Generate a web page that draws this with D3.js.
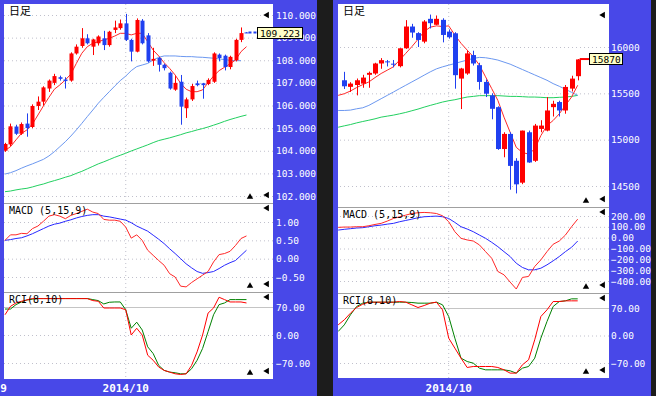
<!DOCTYPE html>
<html>
<head>
<meta charset="utf-8">
<script src="https://cdn.jsdelivr.net/npm/d3@7"></script>
<style>
  body { margin: 0; overflow: hidden; background: #4848e8; }
  svg { display: block; }
</style>
</head>
<body>
<svg id="chart" width="656" height="396"></svg>
<script>
// ---- USD/JPY daily (left) ----
const usdjpyOHLC = [
  [104.00,104.35,103.95,104.30],[104.28,105.20,104.20,105.08],[105.07,105.15,104.70,104.75],
  [104.75,105.25,104.70,105.18],[105.20,105.65,104.62,105.00],[105.05,106.05,105.00,105.98],
  [105.98,106.40,105.80,106.17],[106.17,106.85,106.00,106.80],[106.75,107.15,106.60,107.10],
  [107.00,107.40,106.90,107.30],[107.25,107.32,107.10,107.18],[107.15,107.25,106.75,107.08],
  [107.10,108.35,107.05,108.30],[108.30,108.70,108.25,108.60],[108.63,109.42,108.55,108.97],
  [108.97,109.15,108.70,108.75],[108.60,108.95,108.23,108.92],[108.75,109.10,108.65,109.05],
  [108.97,109.30,108.45,108.67],[108.67,109.30,108.60,109.26],[109.34,109.75,109.20,109.45],
  [109.42,109.80,109.35,109.63],[109.63,110.05,108.85,108.90],[108.90,108.95,107.95,108.38],
  [108.38,109.85,108.35,109.78],[109.75,109.82,108.70,108.75],[109.10,109.20,107.90,107.95],
  [107.98,108.55,107.75,108.06],[108.10,108.15,107.50,107.80],[107.80,107.85,107.55,107.65],
  [107.45,107.50,106.70,106.75],[106.70,107.30,106.65,107.00],[107.05,107.35,105.15,105.95],
  [105.88,106.35,105.45,106.27],[106.27,106.95,106.20,106.86],[106.98,107.10,106.85,106.90],
  [106.98,107.00,106.30,106.90],[106.95,107.20,106.90,107.13],[107.05,108.35,107.00,108.30],
  [108.25,108.30,107.95,108.10],[108.20,108.25,107.55,107.70],[107.70,108.20,107.60,108.15],
  [108.00,108.95,107.95,108.90],[108.90,109.45,108.80,109.20],[109.23,109.24,109.20,109.22]
];
const usdjpyMA5 = [104.01,104.18,104.48,104.77,104.92,105.18,105.58,105.98,106.36,106.72,106.91,107.13,
  107.39,107.86,108.31,108.60,108.75,108.82,108.90,108.97,109.07,109.19,109.19,109.12,109.19,109.19,
  108.82,108.45,108.19,107.89,107.64,107.35,106.98,106.72,106.61,106.61,106.69,107.01,107.30,107.54,
  107.69,107.84,108.01,108.38,108.60];
const usdjpyMA25 = [102.97,103.03,103.12,103.23,103.33,103.42,103.52,103.62,103.77,103.96,104.18,104.40,
  104.65,104.92,105.21,105.51,105.80,106.10,106.36,106.61,106.86,107.10,107.30,107.54,107.72,107.79,
  107.86,108.01,108.13,108.19,108.19,108.19,108.17,108.16,108.16,108.14,108.13,108.11,108.09,108.06,
  108.03,108.00,107.98,107.98];
const usdjpyMA75 = [102.19,102.22,102.27,102.31,102.34,102.40,102.47,102.53,102.61,102.68,102.75,102.83,
  102.90,103.00,103.09,103.20,103.31,103.42,103.51,103.61,103.71,103.80,103.89,103.99,104.08,104.17,
  104.26,104.36,104.45,104.51,104.57,104.64,104.71,104.79,104.85,104.92,104.98,105.05,105.13,105.21,
  105.30,105.38,105.45,105.52,105.58];
const usdjpyMACD = [0.50,0.65,0.65,0.69,0.68,0.82,0.89,1.02,1.16,1.20,1.16,1.09,1.18,1.23,1.29,1.35,
  1.27,1.23,1.07,1.05,1.05,1.02,0.86,0.56,0.65,0.50,0.23,0.09,-0.05,-0.18,-0.41,-0.50,-0.75,-0.77,
  -0.65,-0.55,-0.45,-0.35,-0.09,0.11,0.14,0.20,0.36,0.55,0.62];
const usdjpySignal = [0.50,0.52,0.55,0.57,0.62,0.68,0.75,0.82,0.89,0.94,0.97,1.02,1.06,1.11,1.15,1.18,
  1.20,1.20,1.16,1.14,1.11,1.08,1.05,0.98,0.89,0.82,0.75,0.64,0.53,0.41,0.27,0.14,0.00,-0.14,-0.25,
  -0.35,-0.40,-0.38,-0.35,-0.27,-0.18,-0.11,-0.05,0.09,0.23];
const usdjpyRCI8 = [50.6,71.7,80.1,84.3,87.7,91.1,91,91,91,91,91,91,91,91,91,91,86,84.3,67.5,67.5,67.5,
  67.5,63.2,0,16.9,0,-50.6,-63.2,-80.1,-88.5,-92.7,-97.0,-98.7,-97.0,-75.9,-42.2,0,54.8,67.5,94.4,
  88.5,82.6,82.6,82.6,80.1];
const usdjpyRCI10 = [64.9,64.9,75.9,82.6,87.7,89.4,91.1,91.1,91.1,91.1,91.1,91.1,91.1,91.1,91.1,91.1,
  88.5,86.0,77.6,81.8,82.6,82.6,63.2,16.9,32.0,12.6,-29.5,-46.4,-75.9,-88.5,-92.7,-94.4,-97.0,-97.0,
  -84.3,-63.2,-33.7,8.4,50.6,75.9,80.1,88.5,88.5,88.5,88.5];
const usdjpyPriceTicks = [102,103,104,105,106,107,108,109,110];
const usdjpyMacdTicks = [-0.5,0,0.5,1];
const usdjpyLast = 109.223;
const usdjpyTimeIdx = [0, 22];
const usdjpyTimeText = ['9', '2014/10'];

// ---- Nikkei 225 daily (right); indicator arrays start one bar before the first candle ----
const nikkeiOHLC = [
  [15641,15732,15547,15576],[15570,15620,15515,15605],[15590,15660,15478,15641],[15605,15700,15560,15670],
  [15700,15735,15560,15721],[15714,15830,15700,15822],[15822,15880,15765,15858],[15845,15860,15790,15840],
  [15820,15860,15780,15810],[15793,15986,15780,15986],[15986,16290,15980,16221],[16221,16250,16100,16156],
  [16150,16160,16000,16076],[16058,16290,16040,16275],[16304,16350,16200,16257],[16240,16340,16235,16304],
  [16293,16310,16050,16130],[16166,16190,16090,16105],[16148,16160,15550,15696],[15659,15775,15330,15768],
  [15714,15960,15700,15931],[15913,15960,15800,15822],[15804,15830,15540,15623],[15623,15650,15460,15496],
  [15478,15500,15220,15333],[15351,15360,14890,14899],[14899,15080,14810,15062],[15062,15080,14460,14717],
  [14772,14800,14420,14518],[14536,15098,14520,15098],[15080,15098,14750,14754],[14772,15170,14760,15152],
  [15116,15210,15080,15152],[15098,15460,15090,15315],[15351,15420,15250,15387],[15406,15420,15250,15315],
  [15315,15590,15280,15569],[15551,15690,15520,15659],[15685,15870,15640,15866]
];
const nikkeiMA5 = [15478,15496,15525,15562,15594,15623,15670,15714,15750,15786,15859,15931,16004,16083,
  16167,16214,16228,16221,16228,16130,16040,15967,15895,15804,15678,15551,15424,15243,15080,14917,
  14862,14844,14899,15044,15152,15207,15279,15370,15460,15587];
const nikkeiMA25 = [15315,15315,15319,15333,15344,15370,15406,15442,15478,15514,15551,15587,15623,15659,
  15696,15732,15764,15786,15804,15822,15841,15859,15877,15888,15884,15873,15859,15837,15815,15786,
  15757,15728,15699,15670,15641,15605,15576,15544,15511,15478];
const nikkeiMA75 = [15134,15149,15163,15181,15196,15210,15225,15243,15254,15265,15279,15294,15312,15330,
  15351,15370,15388,15406,15420,15431,15446,15460,15467,15475,15475,15475,15475,15471,15467,15467,
  15464,15460,15460,15457,15453,15453,15457,15460,15467,15478];
const nikkeiMACD = [95,98,98,101,101,110,122,132,153,177,193,208,223,230,233,230,223,202,147,55,-6,-21,
  -31,-67,-129,-190,-312,-343,-410,-474,-367,-358,-266,-205,-129,-61,-31,24,101,171];
const nikkeiSignal = [70,77,83,89,92,101,110,116,125,132,147,159,171,184,193,196,199,193,177,141,101,80,
  55,24,-6,-43,-83,-129,-174,-236,-275,-297,-297,-282,-251,-214,-174,-129,-89,-31];
const nikkeiRCI8 = [27.1,39.9,56.8,71.2,79.7,84.8,84.8,84.8,84.8,84.8,86.5,84.8,78.0,71.2,76.3,82.3,84.8,
  65.3,-6.8,-32.2,-57.7,-81.4,-78.9,-78.9,-78.9,-78.9,-81.4,-87.4,-95.8,-95.8,-74.6,-61.9,-11.0,48.3,
  65.3,86.5,86.5,88.2,88.2,88.2];
const nikkeiRCI10 = [10.2,27.1,52.6,73.8,82.3,84.8,84.8,84.8,84.8,84.8,84.8,84.8,84.0,82.3,82.3,82.3,84.8,
  78.0,48.3,-6.8,-57.7,-66.2,-70.4,-83.1,-87.4,-87.4,-87.4,-87.4,-89.9,-95.8,-83.1,-78.9,-57.7,-6.8,
  35.6,73.8,86.5,88.2,93.3,93.3];
const nikkeiPriceTicks = [14500,15000,15500,16000];
const nikkeiMacdTicks = [-400,-300,-200,-100,0,100,200];
const nikkeiLast = 15870;
const nikkeiTimeIdx = [17];
const nikkeiTimeText = ['2014/10'];

const rciTicks = [-70, 0, 70];

const svg = d3.select('#chart');
const MONO = "'DejaVu Sans Mono', monospace";

svg.append('rect').attr('width', 656).attr('height', 396).attr('fill', '#4848e8');
svg.append('rect').attr('x', 317).attr('width', 16).attr('height', 396).attr('fill', '#1c1c1c');
svg.append('rect').attr('x', 651).attr('width', 5).attr('height', 396).attr('fill', '#1c1c1c');

const panels = [
  {
    id: 'l', x0: 4, x1: 273, labelX: 276, xRange: [5, 241], lastIndex: 43, bodyW: 4, maStart: 0,
    panes: [
      { kind: 'main', top: 4, bottom: 203, domain: [102, 110], range: [196, 15], ticks: usdjpyPriceTicks, fmt: d3.format('.3f') },
      { kind: 'macd', top: 203, bottom: 292, domain: [-0.5, 1], range: [277, 222], ticks: usdjpyMacdTicks, fmt: d3.format('.2f') },
      { kind: 'rci', top: 292, bottom: 379, domain: [-70, 70], range: [363, 307], ticks: rciTicks, fmt: d3.format('.2f') }
    ],
    ohlc: usdjpyOHLC, ma: [usdjpyMA75, usdjpyMA25, usdjpyMA5], macd: usdjpyMACD, signal: usdjpySignal,
    rci8: usdjpyRCI8, rci10: usdjpyRCI10, last: usdjpyLast, lastFmt: d3.format('.3f'),
    timeIdx: usdjpyTimeIdx, timeText: usdjpyTimeText, gridIdx: 22
  },
  {
    id: 'r', x0: 338, x1: 609, labelX: 611, xRange: [344.3, 577.7], lastIndex: 38, bodyW: 5, maStart: -1,
    panes: [
      { kind: 'main', top: 4, bottom: 207, domain: [14500, 16000], range: [186, 47], ticks: nikkeiPriceTicks, fmt: d3.format('d') },
      { kind: 'macd', top: 207, bottom: 293, domain: [-400, 200], range: [281, 216], ticks: nikkeiMacdTicks, fmt: d3.format('.2f') },
      { kind: 'rci', top: 293, bottom: 378, domain: [-70, 70], range: [363, 308], ticks: rciTicks, fmt: d3.format('.2f') }
    ],
    ohlc: nikkeiOHLC, ma: [nikkeiMA75, nikkeiMA25, nikkeiMA5], macd: nikkeiMACD, signal: nikkeiSignal,
    rci8: nikkeiRCI8, rci10: nikkeiRCI10, last: nikkeiLast, lastFmt: d3.format('d'),
    timeIdx: nikkeiTimeIdx, timeText: nikkeiTimeText, gridIdx: 17
  }
];

const maColors = ['#22d060', '#6c98f0', '#ff2828'];
const tri = d3.symbol().type(d3.symbolTriangle).size(18);

panels.forEach(p => {
  const x = d3.scaleLinear().domain([0, p.lastIndex]).range(p.xRange);
  const g = svg.append('g');

  p.panes.forEach((pane, k) => {
    const y = d3.scaleLinear().domain(pane.domain).range(pane.range);
    const clipId = `clip-${p.id}-${k}`;
    svg.append('clipPath').attr('id', clipId)
      .append('rect').attr('x', p.x0).attr('y', pane.top)
      .attr('width', p.x1 - p.x0).attr('height', pane.bottom - pane.top);

    g.append('rect').attr('x', p.x0).attr('y', pane.top)
      .attr('width', p.x1 - p.x0).attr('height', pane.bottom - pane.top)
      .attr('fill', '#ffffff');

    // gridlines
    const grid = g.append('g').attr('transform', `translate(${p.x1},0)`)
      .call(d3.axisLeft(y).tickValues(pane.ticks).tickSize(p.x1 - p.x0).tickFormat(''));
    grid.select('.domain').remove();
    grid.selectAll('line')
      .attr('stroke', d => (pane.kind === 'rci' && d === 70) ? '#c4c4c4' : '#c0c0cc')
      .attr('stroke-dasharray', d => (pane.kind === 'rci' && d === 70) ? null : '1,3');

    // month divider
    g.append('line')
      .attr('x1', x(p.gridIdx)).attr('x2', x(p.gridIdx))
      .attr('y1', pane.top).attr('y2', pane.bottom)
      .attr('stroke', '#c0c0cc').attr('stroke-dasharray', '1,3');

    // separator
    if (k > 0) {
      g.append('line').attr('x1', p.x0).attr('x2', p.x1)
        .attr('y1', pane.top + 0.5).attr('y2', pane.top + 0.5)
        .attr('stroke', '#a0a0a0');
    }

    // value labels
    const ax = g.append('g').attr('transform', `translate(${p.labelX},0)`)
      .call(d3.axisRight(y).tickValues(pane.ticks).tickSize(0).tickPadding(0).tickFormat(pane.fmt));
    ax.select('.domain').remove();
    ax.selectAll('text').attr('fill', '#ffffff').style('font-family', MONO).style('font-size', '9.5px');

    const layer = g.append('g').attr('clip-path', `url(#${clipId})`);
    const line = d3.line().x((d, i) => x(i + p.maStart)).y(d => y(d));

    if (pane.kind === 'main') {
      p.ma.forEach((series, m) => {
        layer.append('path').datum(series)
          .attr('d', line)
          .attr('fill', 'none').attr('stroke', maColors[m]).attr('stroke-width', 1);
      });

      const candles = layer.selectAll('.candle').data(p.ohlc).enter().append('g');
      const col = d => d[3] >= d[0] ? '#ff0000' : '#2040f0';
      candles.append('line')
        .attr('x1', (d, i) => Math.round(x(i)) + 0.5).attr('x2', (d, i) => Math.round(x(i)) + 0.5)
        .attr('y1', d => y(d[1])).attr('y2', d => y(d[2]))
        .attr('stroke', col);
      candles.append('rect')
        .attr('x', (d, i) => Math.round(x(i)) + 0.5 - p.bodyW / 2)
        .attr('y', d => Math.min(y(d[0]), y(d[3])))
        .attr('width', p.bodyW)
        .attr('height', d => Math.max(1, Math.abs(y(d[0]) - y(d[3]))))
        .attr('fill', col);

      // current price marker (drawn over the price scale, as in the terminal)
      const ly = y(p.last);
      const lastX = x(p.ohlc.length - 1);
      const label = p.lastFmt(p.last);
      const boxW = label.length * 6 + 3;
      const boxX = p.id === 'l' ? 257 : 589;
      g.append('line').attr('x1', lastX + 2).attr('x2', boxX).attr('y1', ly).attr('y2', ly)
        .attr('stroke', p.id === 'l' ? '#2040f0' : '#ff0000').attr('stroke-width', 2)
        .attr('stroke-dasharray', p.id === 'l' ? '3,2' : null);
      g.append('rect').attr('x', boxX + 0.5).attr('y', Math.round(ly) - 5.5)
        .attr('width', boxW).attr('height', 11)
        .attr('fill', '#ffffc8').attr('stroke', '#000000');
      g.append('text').attr('x', boxX + 3).attr('y', Math.round(ly) + 3.5)
        .text(label).style('font-family', MONO).style('font-size', '9.5px').attr('fill', '#000000');

      g.append('text').attr('x', p.x0 + 5).attr('y', 15).text('日足')
        .style('font-family', "'Noto Sans CJK JP', sans-serif").style('font-size', '11px').attr('fill', '#000000');
    } else if (pane.kind === 'macd') {
      layer.append('path').datum(p.signal).attr('d', line)
        .attr('fill', 'none').attr('stroke', '#2828ff');
      layer.append('path').datum(p.macd).attr('d', line)
        .attr('fill', 'none').attr('stroke', '#ff2828');
      g.append('text').attr('x', p.x0 + 5).attr('y', pane.top + 11).text('MACD (5,15,9)')
        .style('font-family', MONO).style('font-size', '10px').attr('fill', '#000000');
    } else {
      layer.append('path').datum(p.rci10).attr('d', line)
        .attr('fill', 'none').attr('stroke', '#008000');
      layer.append('path').datum(p.rci8).attr('d', line)
        .attr('fill', 'none').attr('stroke', '#ff0000');
      g.append('text').attr('x', p.x0 + 5).attr('y', pane.top + 11).text('RCI(8,10)')
        .style('font-family', MONO).style('font-size', '10px').attr('fill', '#000000');
    }

    // corner markers
    g.append('path').attr('d', tri)
      .attr('transform', `translate(${p.x1 - 6},${pane.top + (pane.kind === 'main' ? 11 : 5)}) rotate(-90)`)
      .attr('fill', '#000000');
    g.append('path').attr('d', tri)
      .attr('transform', `translate(${p.x1 - 6},${pane.bottom - 8}) rotate(-90)`)
      .attr('fill', '#000000');
    g.append('path').attr('d', tri)
      .attr('transform', `translate(${p.x1 - 23},${pane.bottom - 6})`)
      .attr('fill', '#000000');
  });

  // time axis labels
  p.timeIdx.forEach((idx, j) => {
    const tx = p.timeText[j] === '9' ? x(idx) - 1.5 : x(idx);
    g.append('text').attr('x', tx).attr('y', 392).attr('text-anchor', 'middle')
      .text(p.timeText[j])
      .style('font-family', MONO).style('font-size', '11px').style('font-weight', 'bold')
      .attr('fill', '#ffffff');
  });
});
</script>
</body>
</html>
